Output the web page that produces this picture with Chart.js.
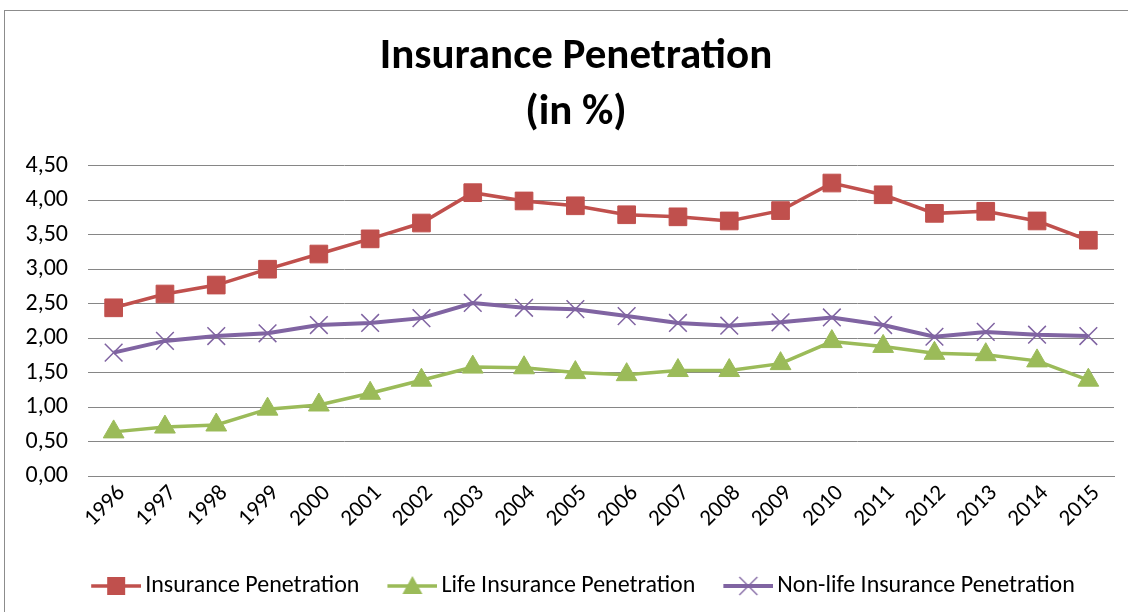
<!DOCTYPE html>
<html>
<head>
<meta charset="utf-8">
<script src="https://cdn.jsdelivr.net/npm/chart.js@4"></script>
<style>
  html, body { margin: 0; padding: 0; background: #fff; overflow: hidden; width: 1128px; height: 612px; }
  #frame { position: absolute; left: 4px; top: 10px; width: 1150px; height: 620px; border: 1px solid #8c8c8c; }
  #wrap { position: absolute; left: 0; top: 0; width: 1150px; height: 612px; }
</style>
</head>
<body>
<div id="frame"></div>
<div id="wrap"><canvas id="chart" width="1150" height="612"></canvas></div>
<script>
const years = ['1996','1997','1998','1999','2000','2001','2002','2003','2004','2005',
               '2006','2007','2008','2009','2010','2011','2012','2013','2014','2015']
const totalPen = [2.44, 2.64, 2.77, 3.00, 3.22, 3.44, 3.67, 4.11, 3.99, 3.92,
                  3.79, 3.76, 3.70, 3.85, 4.25, 4.08, 3.81, 3.84, 3.70, 3.42]
const lifePen = [0.64, 0.71, 0.74, 0.97, 1.03, 1.20, 1.39, 1.58, 1.57, 1.50,
                 1.47, 1.53, 1.53, 1.63, 1.95, 1.88, 1.78, 1.76, 1.67, 1.39]
const nonLifePen = [1.79, 1.96, 2.03, 2.07, 2.19, 2.22, 2.29, 2.51, 2.44, 2.42,
                    2.32, 2.22, 2.18, 2.23, 2.30, 2.19, 2.02, 2.09, 2.05, 2.03]

const FONT = "Carlito, 'Liberation Sans Narrow', 'Open Sans', sans-serif"
Chart.defaults.font.family = FONT
Chart.defaults.color = '#000'

// legend swatch: line with the marker in the middle, like Excel does it.
// left part of the image is left blank so the items sit further apart
function swatch(color, style, lw) {
  const c = document.createElement('canvas')
  c.width = 72; c.height = 22
  const g = c.getContext('2d')
  g.translate(22, 0)
  g.strokeStyle = color; g.fillStyle = color; g.lineWidth = lw
  g.beginPath(); g.moveTo(0, 11); g.lineTo(50, 11); g.stroke()
  if (style === 'rect') { g.fillRect(16, 2, 18, 18) }
  else if (style === 'triangle') { g.beginPath(); g.moveTo(25, 1); g.lineTo(35, 19); g.lineTo(15, 19); g.closePath(); g.fill() }
  else { g.lineWidth = 1.3; g.beginPath(); g.moveTo(16, 2); g.lineTo(34, 20); g.moveTo(34, 2); g.lineTo(16, 20); g.stroke() }
  return c
}

const series = [
  { label: 'Insurance Penetration', data: totalPen, color: '#C0504D', style: 'rect', radius: 12.5, lw: 3.5 },
  { label: 'Life Insurance Penetration', data: lifePen, color: '#9BBB59', style: 'triangle', radius: 12, lw: 3.5 },
  { label: 'Non-life Insurance Penetration', data: nonLifePen, color: '#8064A2', style: 'crossRot', radius: 12.5, lw: 4 }
]

new Chart(document.getElementById('chart'), {
  type: 'line',
  data: {
    labels: years,
    datasets: series.map(s => ({
      label: s.label,
      data: s.data,
      borderColor: s.color,
      backgroundColor: s.color,
      borderWidth: s.lw,
      pointStyle: s.style,
      pointRadius: s.radius,
      pointBorderWidth: s.style === 'crossRot' ? 1.5 : 1,
      pointBorderColor: s.color,
      pointBackgroundColor: s.color,
      tension: 0,
      fill: false
    }))
  },
  options: {
    responsive: false,
    animation: false,
    layout: { padding: { left: 8, right: 6, top: 0, bottom: 4 } },
    plugins: {
      title: {
        display: true,
        text: ['Insurance Penetration', '(in %)'],
        font: { size: 43, weight: 'bold', lineHeight: 1.3 },
        color: '#000',
        padding: { top: 29, bottom: 25 }
      },
      legend: {
        position: 'bottom',
        labels: {
          usePointStyle: true,
          pointStyleWidth: 56,
          font: { size: 24 },
          color: '#000',
          padding: 14,
          generateLabels: (chart) => series.map((s, i) => ({
            text: s.label,
            pointStyle: swatch(s.color, s.style, s.lw),
            datasetIndex: i,
            hidden: false,
            fontColor: '#000',
            lineWidth: 0,
            strokeStyle: 'transparent',
            fillStyle: 'transparent'
          }))
        }
      },
      tooltip: { enabled: false }
    },
    scales: {
      x: {
        offset: true,
        grid: { display: false, drawTicks: false },
        border: { display: true, color: '#868686' },
        ticks: { minRotation: 45, maxRotation: 45, padding: 4, labelOffset: 8, font: { size: 23 }, color: '#000' },
        afterFit: (scale) => { scale.height = 84 }
      },
      y: {
        min: 0,
        max: 4.5,
        grid: { color: '#868686', drawTicks: false },
        border: { display: false },
        ticks: {
          stepSize: 0.5,
          padding: 20,
          font: { size: 24 },
          color: '#000',
          callback: (v) => v.toFixed(2).replace('.', ',')
        },
        afterFit: (scale) => { scale.width = 80 }
      },
      // empty right-hand axis, only keeps the plot edge where the original has it
      yRight: {
        position: 'right',
        grid: { display: false, drawTicks: false },
        border: { display: false },
        ticks: { display: false },
        afterFit: (scale) => { scale.width = 30 }
      }
    }
  }
})
</script>
</body>
</html>
